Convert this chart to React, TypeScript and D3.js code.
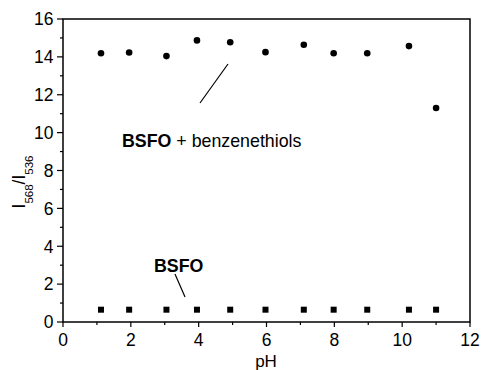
import React from 'react';
import * as d3 from 'd3';

const phValues = [1.12, 1.95, 3.05, 3.95, 4.93, 5.97, 7.1, 7.98, 8.97, 10.2, 11.0];
const withThiols = [14.19, 14.23, 14.04, 14.87, 14.77, 14.25, 14.64, 14.19, 14.19, 14.57, 11.3];
const bsfoOnly = [0.65, 0.65, 0.65, 0.65, 0.65, 0.65, 0.65, 0.65, 0.65, 0.65, 0.65];
const xTicks = [0, 2, 4, 6, 8, 10, 12];
const yTicks = [0, 2, 4, 6, 8, 10, 12, 14, 16];

const W = 481;
const H = 370;
const margin = { left: 63, right: 11, top: 19, bottom: 48 };
const font = 'Arial, "Liberation Sans", sans-serif';
const fs = 17.5;

const App = () => {
  const x = d3.scaleLinear().domain([0, 12]).range([margin.left, W - margin.right]);
  const y = d3.scaleLinear().domain([0, 16]).range([H - margin.bottom, margin.top]);
  const minorX = d3.range(1, 12, 2);
  const minorY = d3.range(1, 16, 2);
  const x0 = x(0);
  const y0 = y(0);

  return (
    <svg width={W} height={H} style={{ position: 'absolute', left: 0, top: 0, background: '#fff' }}>
      <rect x={x0} y={y(16)} width={x(12) - x0} height={y0 - y(16)} fill="none" stroke="#000" strokeWidth={1.5} />
      {xTicks.map((t) => (
        <g key={'xt' + t}>
          <line x1={x(t)} x2={x(t)} y1={y0} y2={y0 + 5} stroke="#000" strokeWidth={1.2} />
          <text x={x(t)} y={346} textAnchor="middle" fontSize={fs} fontFamily={font}>{t}</text>
        </g>
      ))}
      {minorX.map((t) => (
        <line key={'xm' + t} x1={x(t)} x2={x(t)} y1={y0} y2={y0 + 3} stroke="#000" strokeWidth={1.2} />
      ))}
      {yTicks.map((t) => (
        <g key={'yt' + t}>
          <line x1={x0 - 6} x2={x0} y1={y(t)} y2={y(t)} stroke="#000" strokeWidth={1.2} />
          <text x={x0 - 9.5} y={y(t) + 6.3} textAnchor="end" fontSize={fs} fontFamily={font}>{t}</text>
        </g>
      ))}
      {minorY.map((t) => (
        <line key={'ym' + t} x1={x0 - 3} x2={x0} y1={y(t)} y2={y(t)} stroke="#000" strokeWidth={1.2} />
      ))}

      {phValues.map((p, i) => (
        <circle key={'c' + i} cx={x(p)} cy={y(withThiols[i])} r={3.3} fill="#000" />
      ))}
      {phValues.map((p, i) => (
        <rect key={'s' + i} x={x(p) - 3} y={y(bsfoOnly[i]) - 3} width={6} height={6} fill="#000" />
      ))}

      <line x1={200} y1={103} x2={228} y2={64} stroke="#000" strokeWidth={1.2} />
      <text x={122} y={147} fontSize={17.8} fontFamily={font}>
        <tspan fontWeight="bold">BSFO</tspan> + benzenethiols
      </text>
      <text x={154} y={272} fontSize={17.8} fontFamily={font} fontWeight="bold">BSFO</text>
      <line x1={175} y1={274} x2={185} y2={297} stroke="#000" strokeWidth={1.2} />

      <text x={266} y={367} textAnchor="middle" fontSize={17} fontFamily={font}>pH</text>
      <text transform="translate(25, 182) rotate(-90)" textAnchor="middle" fontSize={fs} fontFamily={font}>
        I<tspan fontSize={11.5} dy={8}>568</tspan><tspan dy={-8}>/I</tspan><tspan fontSize={11.5} dy={8}>536</tspan>
      </text>
    </svg>
  );
};

export default App;
